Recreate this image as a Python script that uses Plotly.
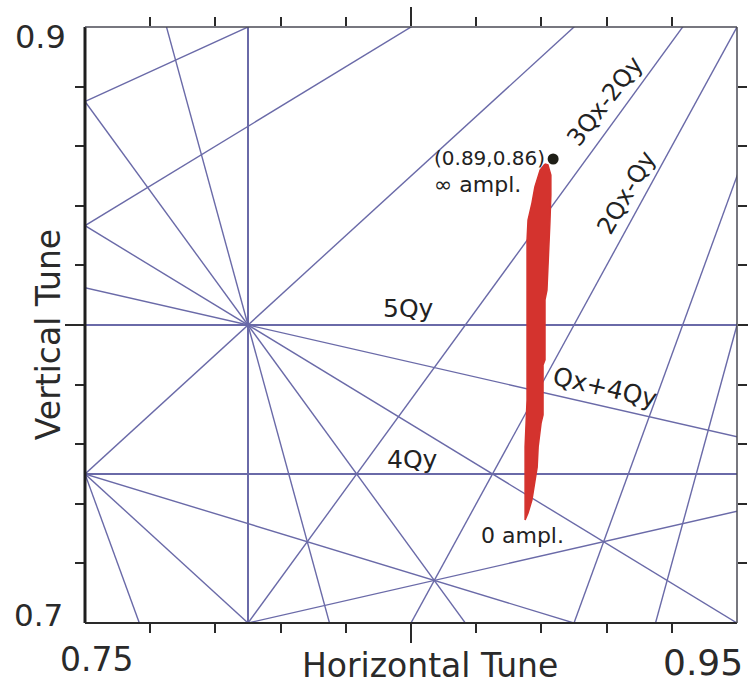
import plotly.graph_objects as go

# Resonance lines m*Qx + n*Qy = p (up to 5th order) crossing the window
res_m = [1, 2, -1, 0, 3, 3, 1, 2, 5, 0, 4, 4, 3, 3, 2, -2, 1, 1]
res_n = [-1, -1, 2, 4, 1, -1, 3, 2, 0, 5, 1, -1, 2, -2, 3, 3, 4, -4]
res_p = [0, 1, 1, 3, 3, 2, 3, 3, 4, 4, 4, 3, 4, 1, 4, 1, 4, -2]

# Tune footprint outline
foot_qx = [0.8911, 0.8920, 0.8929, 0.8929, 0.8926, 0.8920, 0.8917, 0.8911, 0.8911, 0.8905,
           0.8905, 0.8899, 0.8890, 0.8887, 0.8880, 0.8871, 0.8859, 0.8850,
           0.8850, 0.8850, 0.8856, 0.8856, 0.8856, 0.8856, 0.8859, 0.8871, 0.8880, 0.8896]
foot_qy = [0.8540, 0.8537, 0.8503, 0.8436, 0.8342, 0.8218, 0.8117, 0.8084, 0.7883, 0.7866,
           0.7698, 0.7671, 0.7591, 0.7523, 0.7470, 0.7413, 0.7369, 0.7346,
           0.7446, 0.7591, 0.7748, 0.7950, 0.8185, 0.8285, 0.8352, 0.8409, 0.8463, 0.8520]

dot_qx = [0.8936]
dot_qy = [0.8557]

x_minor = [0.77, 0.79, 0.81, 0.83, 0.87, 0.89, 0.91, 0.93]
x_major = [0.85]
y_minor = [0.72, 0.74, 0.76, 0.78, 0.82, 0.84, 0.86, 0.88]
y_major = [0.80]

# text labels: (text, qx, qy, angle, size, anchor)
labels = [
    ("(0.89,0.86)", 0.8565, 0.8560, 0, 20, "left"),
    ("\u221e ampl.", 0.8565, 0.8473, 0, 22, "left"),
    ("3Qx-2Qy", 0.9095, 0.8752, -52, 24, "center"),
    ("2Qx-Qy", 0.9160, 0.8443, -60, 24, "center"),
    ("5Qy", 0.8491, 0.8054, 0, 25, "center"),
    ("4Qy", 0.8506, 0.7547, 0, 25, "center"),
    ("Qx+4Qy", 0.9095, 0.7789, 13, 25, "center"),
    ("0 ampl.", 0.8841, 0.7292, 0, 22, "center"),
]

XR = [0.75, 0.95]
YR = [0.70, 0.90]
LINE_COLOR = "#6a6aa8"
FONT = "DejaVu Sans"

fig = go.Figure()

for m, n, p in zip(res_m, res_n, res_p):
    if n == 0:
        xs = [p / m, p / m]
        ys = [0.6, 1.0]
    else:
        xs = [0.6, 1.1]
        ys = [(p - m * x) / n for x in xs]
    w = 2 if (m == 0 or n == 0) else 1.4
    fig.add_trace(go.Scatter(x=xs, y=ys, mode="lines",
                             line=dict(color=LINE_COLOR, width=w),
                             hoverinfo="skip", showlegend=False))

fig.add_trace(go.Scatter(x=foot_qx + [foot_qx[0]], y=foot_qy + [foot_qy[0]],
                         mode="lines", fill="toself", fillcolor="#d4332e",
                         line=dict(color="#d4332e", width=1.5), showlegend=False))
fig.add_trace(go.Scatter(x=dot_qx, y=dot_qy, mode="markers",
                         marker=dict(color="#1e1e16", size=11), showlegend=False))

for text, qx, qy, ang, sz, anc in labels:
    fig.add_annotation(x=qx, y=qy, xref="x", yref="y", text=text, showarrow=False,
                       textangle=ang, xanchor=anc, yanchor="middle",
                       font=dict(family=FONT, size=sz, color="#222222"))

# tick labels and titles as annotations
paper_text = [
    ("0.9", -0.026, 0.983, "right", 32, 0),
    ("0.7", -0.031, 0.0134, "right", 31, 0),
    ("0.75", 0.0169, -0.062, "center", 33, 0),
    ("0.95", 0.948, -0.067, "center", 36, 0),
    ("Horizontal Tune", 0.529, -0.0705, "center", 33, 0),
    ("Vertical Tune", -0.0567, 0.483, "center", 33, -90),
]
for text, px, py, anc, sz, ang in paper_text:
    fig.add_annotation(x=px, y=py, xref="paper", yref="paper", text=text, showarrow=False,
                       xanchor=anc, yanchor="middle", textangle=ang,
                       font=dict(family=FONT, size=sz, color="#2a2a2a"))

# frame
fig.add_shape(type="line", xref="paper", yref="paper", x0=0, x1=0, y0=0, y1=1,
              line=dict(color="#1e1e1e", width=3))
fig.add_shape(type="line", xref="paper", yref="paper", x0=0, x1=1, y0=0, y1=0,
              line=dict(color="#2a2a2a", width=2))
fig.add_shape(type="line", xref="paper", yref="paper", x0=0, x1=1, y0=1, y1=1,
              line=dict(color="#4a4a55", width=1.5))
fig.add_shape(type="line", xref="paper", yref="paper", x0=1, x1=1, y0=0, y1=1,
              line=dict(color="#4a4a55", width=1.5))

axis_common = dict(showgrid=False, zeroline=False, showline=False, mirror="ticks",
                   ticks="outside", ticklen=19, tickwidth=2, tickcolor="#2a2a2a",
                   showticklabels=False)
fig.update_xaxes(range=XR, tickvals=x_major,
                 minor=dict(tickvals=x_minor, ticks="outside", ticklen=9,
                            tickwidth=2, tickcolor="#2a2a2a", showgrid=False),
                 **axis_common)
fig.update_yaxes(range=YR, tickvals=y_major,
                 minor=dict(tickvals=y_minor, ticks="outside", ticklen=9,
                            tickwidth=2, tickcolor="#2a2a2a", showgrid=False),
                 **axis_common)

fig.update_layout(width=748, height=685, autosize=False,
                  margin=dict(l=85, r=11, t=27, b=62),
                  plot_bgcolor="white", paper_bgcolor="white", showlegend=False)

fig.write_html("out.html", config={"displayModeBar": False},
               post_script="document.body.style.margin='0px';document.body.style.padding='0px';")
